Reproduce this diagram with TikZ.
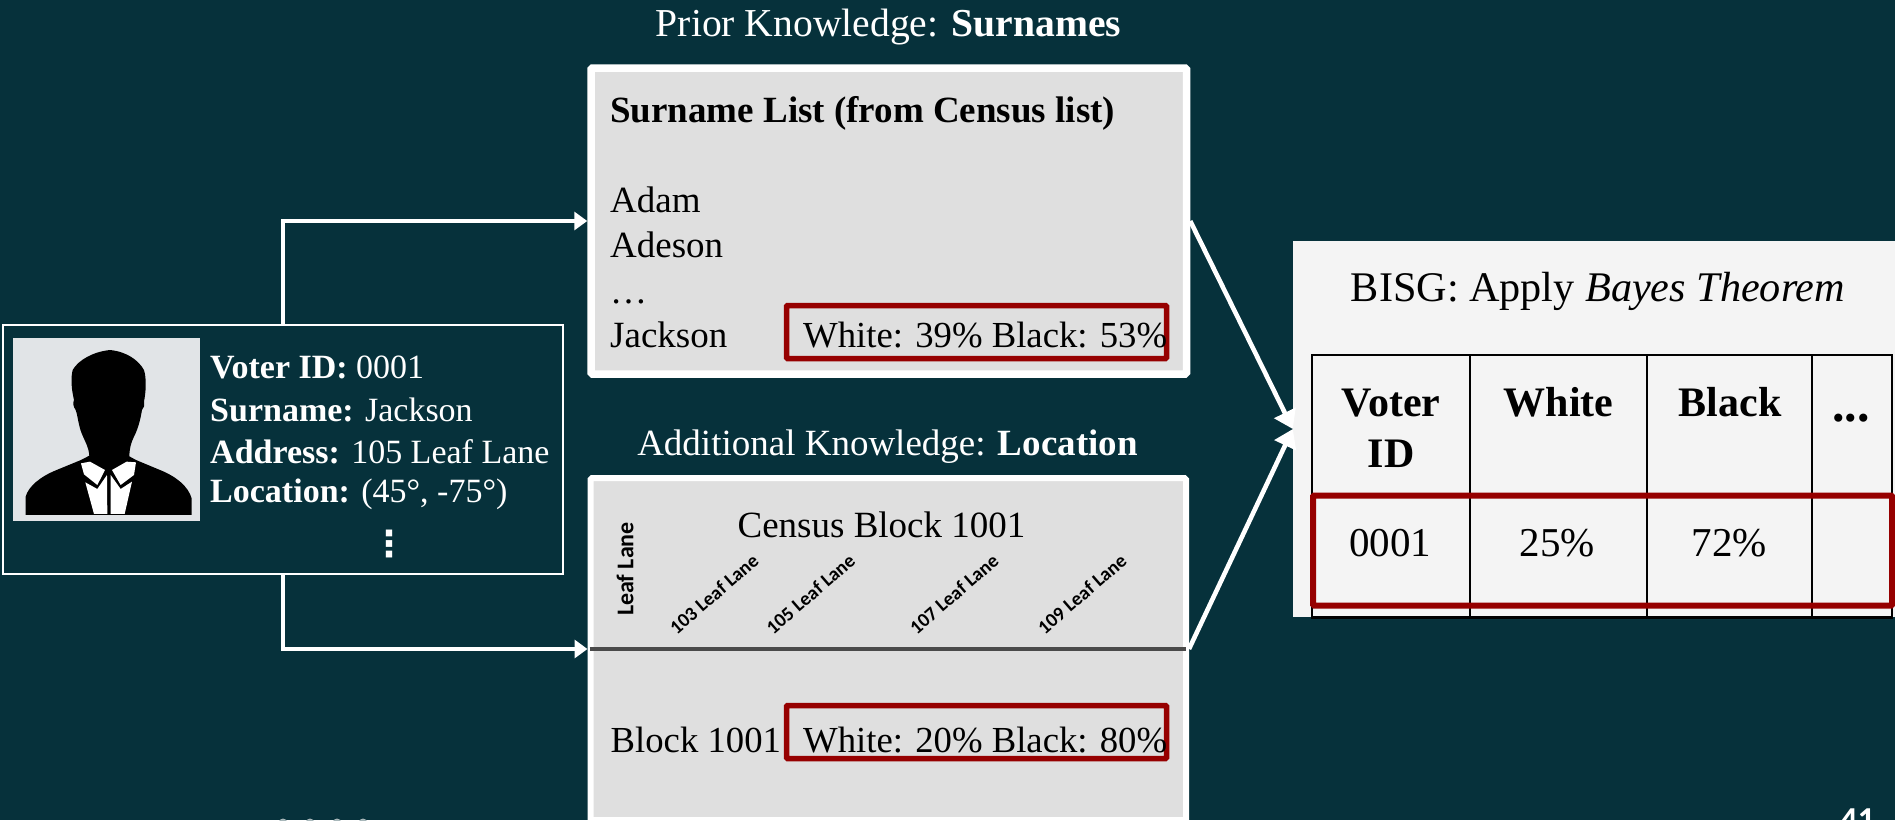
\documentclass[tikz,border=0pt]{standalone}
\usepackage{fontspec}
\usetikzlibrary{arrows.meta}
\setmainfont{Liberation Serif}
\newfontfamily\calfont{Carlito}
\newfontfamily\djfont{DejaVu Sans}
\definecolor{bgc}{HTML}{06313B}
\definecolor{panelc}{HTML}{DFDFDF}
\definecolor{bisgc}{HTML}{F4F4F4}
\definecolor{redc}{HTML}{960000}
\definecolor{roadc}{HTML}{4A4A4A}
\definecolor{photoc}{HTML}{E1E4E7}
\newcommand{\fs}[1]{\fontsize{#1}{#1}\selectfont}
\tikzset{
  tx/.style={inner sep=0pt,anchor=base west,text=black},
  tc/.style={inner sep=0pt,anchor=base,text=black},
  wtx/.style={tx,text=white},
  wtc/.style={tc,text=white},
  panel/.style={draw=white,fill=panelc,line width=#1,rounded corners=1.5pt},
  redbox/.style={draw=redc,line width=5.5pt,rounded corners=1pt,inner sep=0pt},
  flow/.style={draw=white,line width=3.6pt,-{Triangle[length=13pt,width=18pt]}},
  merge/.style={draw=white,line width=4.6pt,-{Triangle[length=18pt,width=23pt]}},
  addr/.style={inner sep=0pt,text=black,rotate=41,font=\calfont\bfseries\fs{19.5}},
}
\begin{document}
\begin{tikzpicture}[x=1pt,y=-1pt]
\useasboundingbox (0,0) rectangle (1895,820);
\clip (0,0) rectangle (1895,820);
\fill[bgc] (0,0) rectangle (1895,820);

% voter card
\node[draw=white,line width=2pt,minimum width=560pt,minimum height=249pt,inner sep=0pt] (voter) at (283,449.5) {};
\node[fill=photoc,minimum width=187pt,minimum height=183pt,inner sep=0pt] (photo) at (106.5,429.5) {};
\begin{scope}[shift={(10,335)},x=0.3333pt,y=-0.3333pt]
  \fill[black] (47,540) -- (47,485) .. controls (55,455) and (90,425) .. (140,405) -- (213,375) -- (238,362)
    .. controls (236,335) and (225,320) .. (215,295) .. controls (205,270) and (203,240) .. (197,225)
    .. controls (190,215) and (188,205) .. (192,195) .. controls (184,160) and (182,130) .. (188,105)
    .. controls (205,75) and (250,50) .. (300,45) .. controls (350,50) and (385,75) .. (402,105)
    .. controls (410,130) and (408,170) .. (402,200) .. controls (404,212) and (402,218) .. (396,225)
    .. controls (392,250) and (385,280) .. (372,305) .. controls (362,325) and (358,345) .. (358,364)
    -- (378,375) -- (450,405) .. controls (500,425) and (535,455) .. (545,490) -- (545,540) -- cycle;
  \fill[white] (213,385) -- (240,380) -- (285,405) -- (262,450) -- (222,418) -- cycle;
  \fill[white] (378,382) -- (350,380) -- (306,405) -- (332,450) -- (372,420) -- cycle;
  \fill[white] (226,442) -- (262,462) -- (291,420) -- (292,537) -- (252,537) -- cycle;
  \fill[white] (366,440) -- (332,462) -- (302,420) -- (302,537) -- (344,537) -- cycle;
\end{scope}
\node[wtx,font=\fs{34}] (vid) at (210,378) {\textbf{Voter ID:} 0001};
\node[wtx,font=\fs{34}] (vsur) at (210,421) {\textbf{Surname:} Jackson};
\node[wtx,font=\fs{34}] (vadd) at (210,463) {\textbf{Address:} 105 Leaf Lane};
\node[wtx,font=\fs{34}] (vloc) at (210,502) {\textbf{Location:} (45°, -75°)};
\node[inner sep=0pt,text=white,font=\djfont\bfseries\fs{36}] (vdots) at (389,544) {⋮};

% surname panel
\node[wtc,font=\fs{39.6}] (t1) at (888.5,36) {Prior Knowledge: \textbf{Surnames}};
\node[panel=7.5pt,minimum width=595.5pt,minimum height=306pt,inner sep=0pt] (list) at (888.75,221) {};
\node[tx,font=\fs{37}\bfseries] (lh) at (610,122.5) {Surname List (from Census list)};
\node[tx,font=\fs{37}] (l1) at (610,212) {Adam};
\node[tx,font=\fs{37}] (l2) at (610,257) {Adeson};
\node[tx,font=\fs{37}] (l3) at (610,303) {…};
\node[tx,font=\fs{37}] (l4) at (610,347) {Jackson};
\node[redbox,minimum width=380pt,minimum height=53pt] (r1) at (976.5,332) {};
\node[tx,font=\fs{36.7}] (l5) at (803,347) {White: 39\% Black: 53\%};

% location panel
\node[wtc,font=\fs{37}] (t2) at (887.5,455) {Additional Knowledge: \textbf{Location}};
\node[panel=6pt,minimum width=595.5pt,minimum height=342pt,inner sep=0pt] (block) at (888.25,649) {};
\node[tc,font=\fs{37}] (cb) at (881.5,537) {Census Block 1001};
\node[inner sep=0pt,text=black,rotate=90,font=\calfont\bfseries\fs{24}] (ll) at (625,569) {Leaf Lane};
\node[addr] (a1) at (714,594) {103 Leaf Lane};
\node[addr] (a2) at (810.5,594) {105 Leaf Lane};
\node[addr] (a3) at (954,594) {107 Leaf Lane};
\node[addr] (a4) at (1082,594) {109 Leaf Lane};
\draw[roadc,line width=4pt,shorten <=2pt,shorten >=3pt] (block.west) -- (block.east);
\node[tx,font=\fs{36.7}] (b1) at (610.5,752.5) {Block 1001};
\node[redbox,minimum width=380pt,minimum height=53pt] (r2) at (976.5,732) {};
\node[tx,font=\fs{36.7}] (b2) at (803,752.5) {White: 20\% Black: 80\%};

% BISG panel
\node[fill=bisgc,minimum width=602pt,minimum height=376pt,inner sep=0pt] (bisg) at (1594,429) {};
\node[tc,font=\fs{42.2}] (bt) at (1598,301) {BISG: Apply \textit{Bayes Theorem}};
\draw[black,line width=2pt] (1312,355) -- (1892,355);
\draw[black,line width=2pt] (1312,495.5) -- (1892,495.5);
\draw[black,line width=3pt] (1311,617.5) -- (1893,617.5);
\foreach \cx in {1312,1469.5,1646.5,1811.5,1892}
  \draw[black,line width=2pt] (\cx,354) -- (\cx,618);
\node[tc,font=\fs{42}\bfseries] (h1a) at (1391,416) {Voter};
\node[tc,font=\fs{42}\bfseries] (h1b) at (1391,467) {ID};
\node[tc,font=\fs{42}\bfseries] (h2) at (1558.5,416) {White};
\node[tc,font=\fs{42}\bfseries] (h3) at (1730,416) {Black};
\node[tc,font=\fs{50}\bfseries] (h4) at (1851,421) {...};
\node[tc,font=\fs{41}] (d1) at (1390,556) {0001};
\node[tc,font=\fs{41}] (d2) at (1557.5,556) {25\%};
\node[tc,font=\fs{41}] (d3) at (1729.5,556) {72\%};
\node[redbox,line width=6pt,minimum width=579pt,minimum height=110pt] (r3) at (1602.5,550.5) {};

% connectors
\draw[flow] (voter.north) |- (list.west);
\draw[flow] (voter.south) |- (block.west);
\draw[merge] (list.east) -- (bisg.west);
\draw[merge] (block.east) -- (bisg.west);

% footer
\foreach \i/\dx in {1/283,2/310,3/337,4/363}
  \fill[white!65!bgc] (\dx,823) circle (4.5pt);
\node[wtc,font=\calfont\bfseries\fs{35}] (pg) at (1857.5,831) {41};
\end{tikzpicture}
\end{document}
